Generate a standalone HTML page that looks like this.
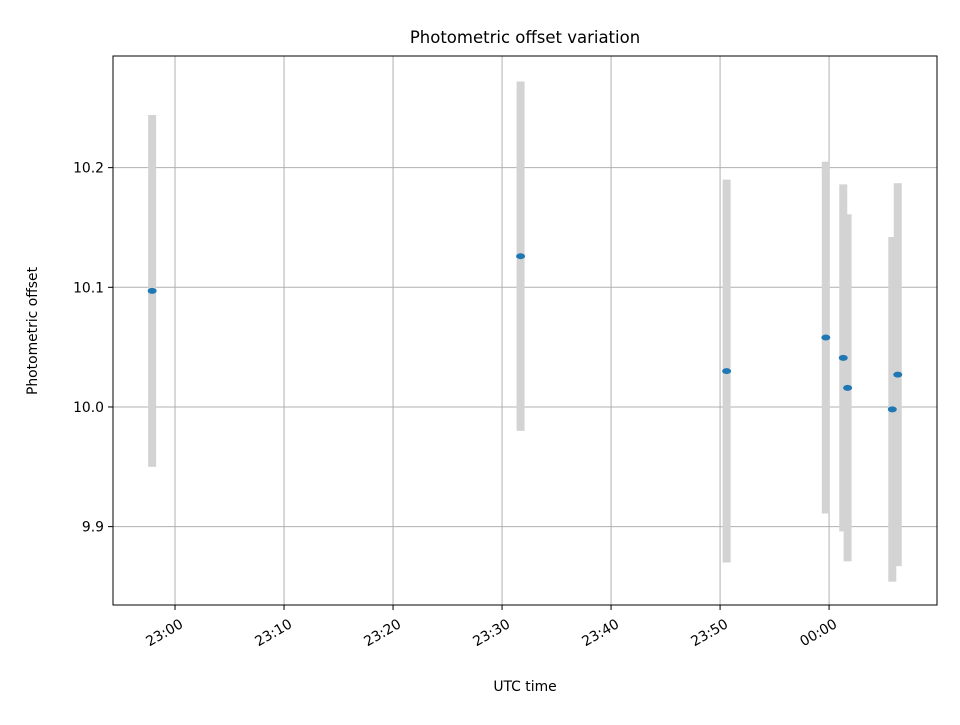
<!DOCTYPE html>
<html><head><meta charset="utf-8"><style>
body{margin:0;background:#fff;}
svg text{font-family:"DejaVu Sans","Liberation Sans",sans-serif;fill:#000;}
</style></head><body>
<svg id="chart" width="960" height="720" xmlns="http://www.w3.org/2000/svg">
<rect width="960" height="720" fill="#fff"/>
<text x="525" y="43" font-size="16.5" text-anchor="middle">Photometric offset variation</text>
<g id="grid"></g><g id="marks"></g><g id="axes"></g>
<text x="525" y="691" font-size="13.9" text-anchor="middle">UTC time</text>
<text transform="translate(37,331) rotate(-90)" font-size="13.9" text-anchor="middle">Photometric offset</text>
</svg>
<script>
// minutes after 23:00 UTC
const times = [-2.1, 31.7, 50.6, 59.7, 61.3, 61.7, 65.8, 66.3];
const offsets = [10.097, 10.126, 10.030, 10.058, 10.041, 10.016, 9.998, 10.027];
const errors = [0.147, 0.146, 0.160, 0.147, 0.145, 0.145, 0.144, 0.160];
const xTicks = [0, 10, 20, 30, 40, 50, 60];
const xTickLabels = ["23:00", "23:10", "23:20", "23:30", "23:40", "23:50", "00:00"];
const yTicks = [9.9, 10.0, 10.1, 10.2];
const yTickLabels = ["9.9", "10.0", "10.1", "10.2"];

const L=113,R=937,T=56,B=605;
const xMin=-5.69,xMax=69.9,yMin=9.8345,yMax=10.2933;
const X=v=>L+(v-xMin)/(xMax-xMin)*(R-L);
const Y=v=>B-(v-yMin)/(yMax-yMin)*(B-T);
const NS="http://www.w3.org/2000/svg";
function mk(parent,tag,attrs){const e=document.createElementNS(NS,tag);for(const k in attrs)e.setAttribute(k,attrs[k]);parent.appendChild(e);return e;}
const grid=document.getElementById('grid'),marks=document.getElementById('marks'),axes=document.getElementById('axes');
xTicks.forEach((t,i)=>{
  const x=X(t);
  const g=mk(grid,'line',{x1:x,x2:x,y1:T,y2:B,stroke:'#b0b0b0','stroke-width':1});
  
  
  const tk=mk(axes,'line',{x1:x,x2:x,y1:B,y2:B+5,stroke:'#000','stroke-width':1});
  
  
  const ax=x+4, ay=B+13;
  const lb=mk(axes,'text',{x:ax,y:ay+10,'font-size':13.9,'text-anchor':'end',transform:`rotate(-30 ${ax} ${ay})`});
  lb.textContent=xTickLabels[i];
  
  
});
yTicks.forEach((t,i)=>{
  const y=Y(t);
  const g=mk(grid,'line',{x1:L,x2:R,y1:y,y2:y,stroke:'#b0b0b0','stroke-width':1});
  
  
  const tk=mk(axes,'line',{x1:L-5,x2:L,y1:y,y2:y,stroke:'#000','stroke-width':1});
  
  
  const lb=mk(axes,'text',{x:L-9,y:y+5,'font-size':13.9,'text-anchor':'end'});
  lb.textContent=yTickLabels[i];
  
  
});
times.forEach((t,i)=>{
  const x=X(t);
  const b=mk(marks,'rect',{x:x-4,y:Y(offsets[i]+errors[i]),width:8,height:Y(offsets[i]-errors[i])-Y(offsets[i]+errors[i]),fill:'#d3d3d3'});
  
  
});
times.forEach((t,i)=>{
  const p=mk(marks,'ellipse',{cx:X(t),cy:Y(offsets[i]),rx:4.5,ry:3,fill:'#1f77b4'});
  
  
});
const fr=mk(axes,'rect',{x:L,y:T,width:R-L,height:B-T,fill:'none',stroke:'#000','stroke-width':1});


</script>
</body></html>
